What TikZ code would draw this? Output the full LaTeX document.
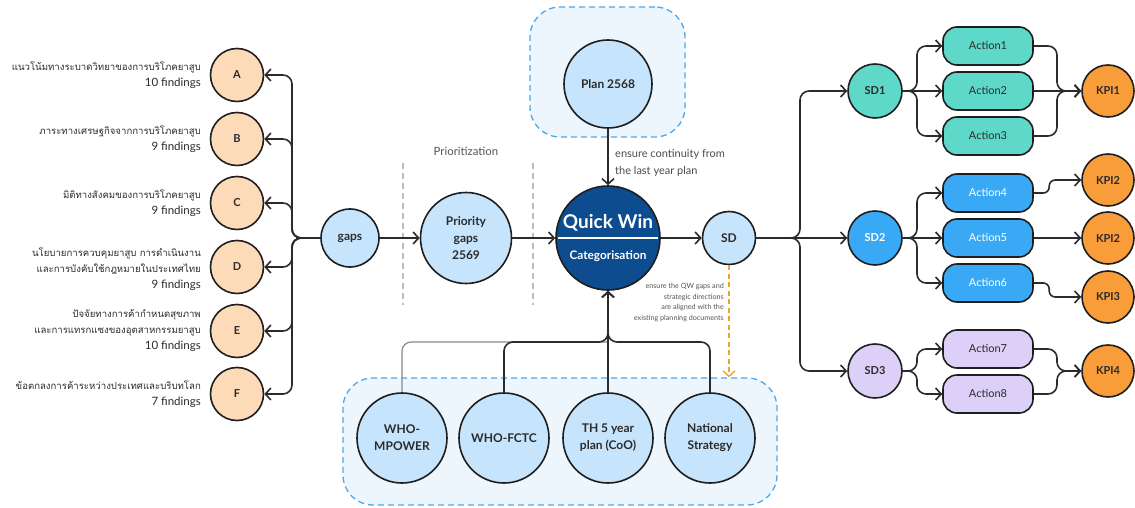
\documentclass[tikz,border=0pt]{standalone}
\usepackage{fontspec}
\setmainfont{Lato}
\newfontfamily\thaifont[Script=Thai]{Loma}
\usepackage{tikz}
\usetikzlibrary{arrows.meta,backgrounds,calc}

\definecolor{ink}{HTML}{2B2B2B}
\definecolor{outline}{HTML}{1E1E1E}
\definecolor{peach}{HTML}{FDDBB8}
\definecolor{lightblue}{HTML}{C6E4FB}
\definecolor{navy}{HTML}{0D4C8F}
\definecolor{teal}{HTML}{5ED8C8}
\definecolor{sdblue}{HTML}{3AA9F5}
\definecolor{lavender}{HTML}{DCD0F8}
\definecolor{kpiorange}{HTML}{F89D3A}
\definecolor{boxfill}{HTML}{EEF6FD}
\definecolor{boxline}{HTML}{4CA8EC}
\definecolor{guidegray}{HTML}{BDBDBD}
\definecolor{noteorange}{HTML}{E8A82A}

\newcommand{\thaiLine}[1]{{\thaifont\fontsize{9.6}{16}\selectfont #1}}

\begin{document}
\begin{tikzpicture}[x=1pt, y=-1pt, line join=round,
>={Straight Barb[length=5.5pt,width=12pt]}]

\tikzset{
	finding_node/.style = {
		circle, draw=outline, line width=1.6pt, fill=peach, minimum size=53pt,
		inner sep=0pt, font=\bfseries\fontsize{11}{12}\selectfont, text=ink
	},
	finding_text/.style = {
		anchor=east, align=right, inner sep=0pt, text=ink,
		font=\fontsize{11.5}{16}\selectfont
	},
	blue_node/.style = {
		circle, draw=outline, line width=1.6pt, fill=lightblue, inner sep=0pt,
		align=center, text=ink, font=\bfseries\fontsize{12}{17}\selectfont
	},
	group_box/.style = {
		draw=boxline, line width=1.3pt, dash pattern=on 6pt off 4pt,
		fill=boxfill, rounded corners=30pt
	},
	action_node/.style = {
		rectangle, rounded corners=14pt, draw=outline, line width=1.6pt,
		minimum width=90pt, minimum height=38pt, font=\fontsize{11}{12}\selectfont
	},
	sd_node/.style = {
		circle, draw=outline, line width=1.6pt, minimum size=54pt, inner sep=0pt,
		font=\bfseries\fontsize{11}{12}\selectfont
	},
	kpi_node/.style = {sd_node, fill=kpiorange, minimum size=52pt, text=ink},
	link/.style = {->, draw=ink, line width=1.6pt, rounded corners=9pt},
	guide/.style = {draw=guidegray, line width=1.3pt, dash pattern=on 6pt off 4pt}
}

\fill[white] (0,0) rectangle (1135,508);
\useasboundingbox (0,0) rectangle (1135,508);

% grupos punteados
\node[group_box, minimum width=155pt, minimum height=130pt] (plan_box) at (607.5,72) {};
\node[group_box, minimum width=434pt, minimum height=127pt] (docs_box) at (560,441.5) {};

% hallazgos
\node[finding_node] (A) at (237,75) {A};
\node[finding_node] (B) at (237,139) {B};
\node[finding_node] (C) at (237,203) {C};
\node[finding_node] (D) at (237,267) {D};
\node[finding_node] (E) at (237,331) {E};
\node[finding_node] (F) at (237,394) {F};

\node[finding_text] (tA) at (201,75) {\thaiLine{แนวโน้มทางระบาดวิทยาของการบริโภคยาสูบ}\\10 findings};
\node[finding_text] (tB) at (201,139) {\thaiLine{ภาระทางเศรษฐกิจจากการบริโภคยาสูบ}\\9 findings};
\node[finding_text] (tC) at (201,203) {\thaiLine{มิติทางสังคมของการบริโภคยาสูบ}\\9 findings};
\node[finding_text] (tD) at (201,269) {\thaiLine{นโยบายการควบคุมยาสูบ การดำเนินงาน}\\\thaiLine{และการบังคับใช้กฎหมายในประเทศไทย}\\9 findings};
\node[finding_text] (tE) at (201,331) {\thaiLine{ปัจจัยทางการค้ากำหนดสุขภาพ}\\\thaiLine{และการแทรกแซงของอุตสาหกรรมยาสูบ}\\10 findings};
\node[finding_text] (tF) at (201,394) {\thaiLine{ข้อตกลงการค้าระหว่างประเทศและบริบทโลก}\\7 findings};

% priorizacion
\draw[guide] (403,163) -- (403,305);
\draw[guide] (533,163) -- (533,305);
\node[text=ink!80, font=\fontsize{11.4}{12}\selectfont] (prio_title) at (466,151) {Prioritization};

\node[blue_node, minimum size=58pt] (gaps) at (350,238) {gaps};
\node[blue_node, minimum size=91pt] (prio) at (466,238) {Priority\\gaps\\2569};

% Quick Win
\node[circle, draw=outline, line width=1.6pt, fill=navy, minimum size=104pt] (QW) at (608,238) {};
\node[text=white, font=\bfseries\fontsize{19}{22}\selectfont] (qw_title) at (608,223) {Quick Win};
\draw[white, line width=1.4pt] ($(QW.west)+(3,0)$) -- ($(QW.east)+(-3,0)$);
\node[text=white, font=\bfseries\fontsize{11.8}{13}\selectfont] (qw_sub) at (608,256) {Categorisation};

\node[blue_node, minimum size=88pt] (plan) at (608,84) {Plan 2568};
\node[blue_node, minimum size=53pt] (SD) at (729,238) {SD};

\node[anchor=north west, align=left, inner sep=0pt, text=ink!85,
	font=\fontsize{11}{17}\selectfont] (plan_note) at (615,149)
	{ensure continuity from\\the last year plan};
\node[anchor=north east, align=right, inner sep=0pt, text=ink!80,
	font=\fontsize{7.2}{10.7}\selectfont] (sd_note) at (724,283)
	{ensure the QW gaps and\\strategic directions\\are aligned with the\\existing planning documents};

% documentos
\node[blue_node, minimum size=90pt] (mpower) at (402,438) {WHO-\\MPOWER};
\node[blue_node, minimum size=90pt] (fctc) at (504,438) {WHO-FCTC};
\node[blue_node, minimum size=90pt] (th5) at (608,438) {TH 5 year\\plan (CoO)};
\node[blue_node, minimum size=90pt] (natstrat) at (710,438) {National\\Strategy};

% direcciones estrategicas
\node[sd_node, fill=teal, text=ink] (SD1) at (875,91) {SD1};
\node[sd_node, fill=sdblue, text=white] (SD2) at (875,238) {SD2};
\node[sd_node, fill=lavender, text=ink] (SD3) at (875,371) {SD3};

\node[action_node, fill=teal, text=ink] (act1) at (988,46) {Action1};
\node[action_node, fill=teal, text=ink] (act2) at (988,91) {Action2};
\node[action_node, fill=teal, text=ink] (act3) at (988,136) {Action3};
\node[action_node, fill=sdblue, text=white] (act4) at (988,193) {Action4};
\node[action_node, fill=sdblue, text=white] (act5) at (988,238) {Action5};
\node[action_node, fill=sdblue, text=white] (act6) at (988,283) {Action6};
\node[action_node, fill=lavender, text=ink] (act7) at (988,349) {Action7};
\node[action_node, fill=lavender, text=ink] (act8) at (988,394) {Action8};

\node[kpi_node] (kpi1) at (1108,91) {KPI1};
\node[kpi_node] (kpi2a) at (1108,180) {KPI2};
\node[kpi_node] (kpi2b) at (1108,238) {KPI2};
\node[kpi_node] (kpi3) at (1108,297) {KPI3};
\node[kpi_node] (kpi4) at (1108,371) {KPI4};

% puntos de union
\coordinate (jl) at (292,238);
\coordinate (jb) at (608,342);
\coordinate (jr) at (800,238);
\coordinate (j1) at (917,91);
\coordinate (j2) at (917,238);
\coordinate (j3) at (917,371);
\coordinate (k1) at (1057,91);
\coordinate (k4) at (1057,371);

% conexiones
\foreach \f in {A,B,C,D,E,F}
	\draw[link] (gaps.west) -- (jl) |- (\f.east);
\draw[link] (gaps) -- (prio);
\draw[link] (prio) -- (QW);
\draw[link] (plan) -- (QW);
\draw[link] (QW) -- (SD);

\draw[link, -, draw=ink!55, line width=1.2pt] (mpower.north) |- (jb);
\draw[link] (fctc.north) |- (jb) -- (QW.south);
\draw[link] (natstrat.north) |- (jb) -- (QW.south);
\draw[link] (th5) -- (QW);

\draw[->, draw=noteorange, line width=1.4pt, dash pattern=on 5pt off 3.5pt] (SD.south) -- (SD.south |- docs_box.north);

\draw[link] (SD.east) -- (jr) |- (SD1.west);
\draw[link] (SD) -- (SD2);
\draw[link] (SD.east) -- (jr) |- (SD3.west);

\draw[link] (SD1.east) -- (j1) |- (act1.west);
\draw[link] (SD1) -- (act2);
\draw[link] (SD1.east) -- (j1) |- (act3.west);
\draw[link] (SD2.east) -- (j2) |- (act4.west);
\draw[link] (SD2) -- (act5);
\draw[link] (SD2.east) -- (j2) |- (act6.west);
\draw[link] (SD3.east) -- (j3) |- (act7.west);
\draw[link] (SD3.east) -- (j3) |- (act8.west);

\draw[link] (act1.east) -| (k1) -- (kpi1.west);
\draw[link] (act2) -- (kpi1);
\draw[link] (act3.east) -| (k1) -- (kpi1.west);
\draw[link, rounded corners=6pt] (act4.east) -| ([xshift=-32pt]kpi2a.west) -- (kpi2a.west);
\draw[link] (act5) -- (kpi2b);
\draw[link, rounded corners=6pt] (act6.east) -| ([xshift=-32pt]kpi3.west) -- (kpi3.west);
\draw[link] (act7.east) -| (k4) -- (kpi4.west);
\draw[link] (act8.east) -| (k4) -- (kpi4.west);
\end{tikzpicture}
\end{document}
